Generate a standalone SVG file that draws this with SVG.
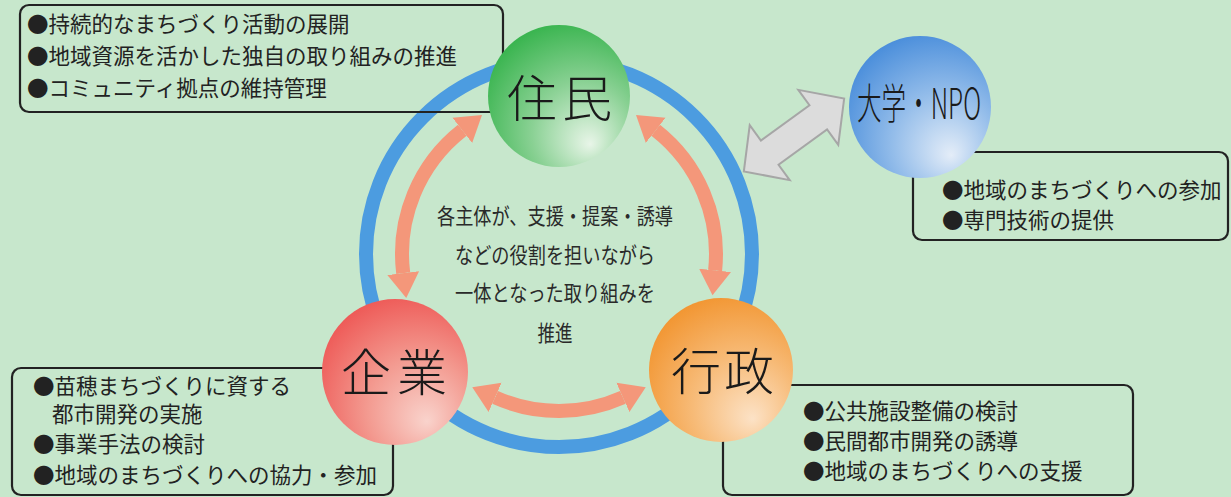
<svg xmlns="http://www.w3.org/2000/svg" width="1231" height="497" viewBox="0 0 1231 497">
<style>
.box{fill:none;stroke:#222;stroke-width:2.2}
.bt{font-family:"Noto Sans CJK JP","Noto Sans",sans-serif;font-size:21.5px;fill:#222}
.lbl{font-family:"Noto Sans CJK JP","Noto Sans",sans-serif;font-size:50px;fill:#1a1a1a;font-weight:300;text-anchor:middle}
.ct{font-family:"Noto Sans CJK JP","Noto Sans",sans-serif;font-size:22px;fill:#2a2a2a;text-anchor:middle}
.ring{fill:none;stroke:#4c9ce0;stroke-width:14}
.arc{fill:none;stroke:#f4977a;stroke-width:14}
</style>
<defs>
<marker id="ah" markerUnits="userSpaceOnUse" viewBox="0 -17 30 34" refX="0" refY="0" markerWidth="30" markerHeight="34" orient="auto-start-reverse">
<path d="M0,-16 L25,0 L0,16 z" fill="#f4977a"/>
</marker>
<radialGradient id="gG" cx="0.62" cy="0.68" r="0.72" fx="0.72" fy="0.84">
<stop offset="0" stop-color="#e8f5e8"/><stop offset="0.5" stop-color="#8ad194"/><stop offset="1" stop-color="#38b44e"/>
</radialGradient>
<radialGradient id="gB" cx="0.62" cy="0.68" r="0.72" fx="0.72" fy="0.84">
<stop offset="0" stop-color="#e4edf8"/><stop offset="0.5" stop-color="#94bdea"/><stop offset="1" stop-color="#4a8edb"/>
</radialGradient>
<radialGradient id="gR" cx="0.62" cy="0.68" r="0.72" fx="0.72" fy="0.84">
<stop offset="0" stop-color="#f9d3cc"/><stop offset="0.5" stop-color="#f39a90"/><stop offset="1" stop-color="#ee5a57"/>
</radialGradient>
<radialGradient id="gO" cx="0.62" cy="0.68" r="0.72" fx="0.72" fy="0.84">
<stop offset="0" stop-color="#fce2c6"/><stop offset="0.5" stop-color="#f7bb78"/><stop offset="1" stop-color="#f29632"/>
</radialGradient>
</defs>
<rect x="0" y="0" width="1231" height="497" fill="#c7e7cc"/>

<g id="connectors">
<circle class="ring" cx="559" cy="254" r="193"/>
<path class="arc" d="M462.3,130.3 A157,157 0 0 0 403.2,273.1" marker-start="url(#ah)" marker-end="url(#ah)"/>
<path class="arc" d="M655.7,130.3 A157,157 0 0 1 715.1,270.4" marker-start="url(#ah)" marker-end="url(#ah)"/>
<path class="arc" d="M622.9,397.4 A157,157 0 0 1 495.1,397.4" marker-start="url(#ah)" marker-end="url(#ah)"/>
<polygon transform="translate(794,135) rotate(-36)" points="-62,0 -30,-34 -30,-15 30,-15 30,-34 62,0 30,34 30,15 -30,15 -30,34" fill="#dcdcdc" stroke="#a6a6a6" stroke-width="2"/>
</g>

<g id="center-text">
<text class="ct" x="555" y="224" textLength="236" lengthAdjust="spacingAndGlyphs">各主体が、支援・提案・誘導</text>
<text class="ct" x="555" y="263" textLength="200" lengthAdjust="spacingAndGlyphs">などの役割を担いながら</text>
<text class="ct" x="555" y="301" textLength="200" lengthAdjust="spacingAndGlyphs">一体となった取り組みを</text>
<text class="ct" x="555" y="341" textLength="35" lengthAdjust="spacingAndGlyphs">推進</text>
</g>

<g id="node-jumin">
<rect class="box" x="20" y="5" width="483" height="107" rx="9"/>
<text class="bt" x="27" y="32">●持続的なまちづくり活動の展開</text>
<text class="bt" x="27" y="64">●地域資源を活かした独自の取り組みの推進</text>
<text class="bt" x="27" y="96">●コミュニティ拠点の維持管理</text>
<circle cx="559" cy="96" r="71" fill="url(#gG)"/>
<text class="lbl" y="117"><tspan x="532">住</tspan><tspan x="587">民</tspan></text>
</g>

<g id="node-npo">
<rect class="box" x="913" y="152" width="315" height="88" rx="9"/>
<text class="bt" x="942" y="198">●地域のまちづくりへの参加</text>
<text class="bt" x="942" y="228">●専門技術の提供</text>
<circle cx="920" cy="107" r="71" fill="url(#gB)"/>
<text x="857" y="119" font-family="Noto Sans CJK JP, Noto Sans, sans-serif" font-size="42" font-weight="300" fill="#1a1a1a" textLength="124" lengthAdjust="spacingAndGlyphs">大学・NPO</text>
</g>

<g id="node-kigyo">
<rect class="box" x="12" y="368" width="381" height="127" rx="9"/>
<text class="bt" x="33" y="394">●苗穂まちづくりに資する</text>
<text class="bt" x="52" y="422">都市開発の実施</text>
<text class="bt" x="33" y="452">●事業手法の検討</text>
<text class="bt" x="33" y="483">●地域のまちづくりへの協力・参加</text>
<circle cx="395" cy="372" r="73" fill="url(#gR)"/>
<text class="lbl" y="391"><tspan x="366">企</tspan><tspan x="422">業</tspan></text>
</g>

<g id="node-gyosei">
<rect class="box" x="723" y="385" width="410" height="110" rx="9"/>
<text class="bt" x="803" y="419">●公共施設整備の検討</text>
<text class="bt" x="803" y="449">●民間都市開発の誘導</text>
<text class="bt" x="803" y="479">●地域のまちづくりへの支援</text>
<circle cx="721" cy="370" r="72" fill="url(#gO)"/>
<text class="lbl" y="390"><tspan x="696">行</tspan><tspan x="749">政</tspan></text>
</g>
</svg>
